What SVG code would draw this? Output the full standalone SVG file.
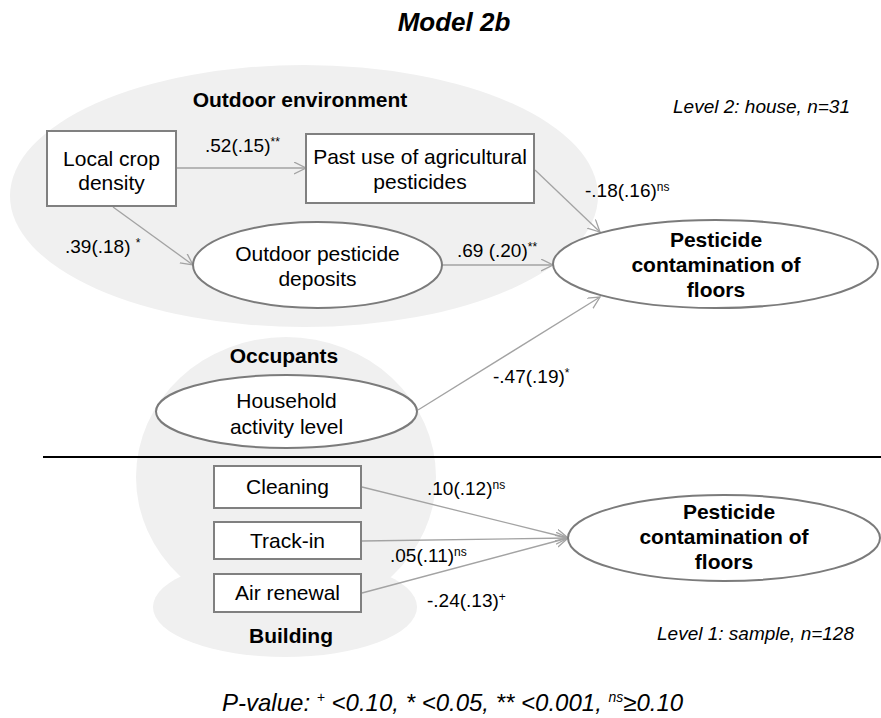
<svg xmlns="http://www.w3.org/2000/svg" width="881" height="718" viewBox="0 0 881 718">
<defs>
<style>
text{font-family:"Liberation Sans",Arial,sans-serif;fill:#000}
.n{font-size:21px;text-anchor:middle}
.b{font-size:21px;font-weight:bold;text-anchor:middle}
.e{font-size:19px}
.i{font-size:19px;font-style:italic}
.sup{font-size:12px}
.blob{fill:#f0f0f0;stroke:none}
.box{fill:#fff;stroke:#808080;stroke-width:2}
.ell{fill:#fff;stroke:#7b7b7b;stroke-width:2}
.c{stroke:#a3a3a3;stroke-width:1.3;fill:none;marker-end:url(#ah)}
</style>
<marker id="ah" markerUnits="userSpaceOnUse" markerWidth="14" markerHeight="14" refX="12" refY="6" orient="auto">
<path d="M0,0 L12,6 L0,12" fill="none" stroke="#a3a3a3" stroke-width="1.3"/>
</marker>
</defs>
<rect width="881" height="718" fill="#fff"/>
<g id="groups">
<ellipse class="blob" cx="304" cy="196" rx="294" ry="131"/>
<ellipse class="blob" cx="286" cy="477" rx="150" ry="140"/>
<ellipse class="blob" cx="285" cy="607" rx="132" ry="50"/>
</g>
<text x="454" y="31" style="font-size:26px;font-weight:bold;font-style:italic;text-anchor:middle">Model 2b</text>
<text class="b" x="300" y="107">Outdoor environment</text>
<text class="b" x="284" y="363">Occupants</text>
<text class="b" x="291" y="643">Building</text>
<text class="i" x="673" y="113">Level 2: house, n=31</text>
<text class="i" x="657" y="640">Level 1: sample, n=128</text>
<line x1="43" y1="457" x2="881" y2="457" stroke="#000" stroke-width="2"/>
<g id="connectors">
<line class="c" x1="176" y1="168" x2="306" y2="168"/>
<line class="c" x1="113" y1="207" x2="193" y2="265"/>
<line class="c" x1="535" y1="170" x2="600" y2="232"/>
<line class="c" x1="442" y1="265" x2="553" y2="265"/>
<line class="c" x1="418" y1="410" x2="600" y2="297"/>
<line class="c" x1="362" y1="487" x2="568" y2="538"/>
<line class="c" x1="362" y1="541" x2="568" y2="538"/>
<line class="c" x1="362" y1="593" x2="568" y2="538"/>
<text class="e" x="205" y="152">.52(.15)<tspan class="sup" dy="-6">**</tspan></text>
<text class="e" x="65" y="253">.39(.18) <tspan class="sup" dy="-6">*</tspan></text>
<text class="e" x="585" y="197">-.18(.16)<tspan class="sup" dy="-6">ns</tspan></text>
<text class="e" x="457" y="257">.69 (.20)<tspan class="sup" dy="-6">**</tspan></text>
<text class="e" x="493" y="383">-.47(.19)<tspan class="sup" dy="-6">*</tspan></text>
<text class="e" x="427" y="495">.10(.12)<tspan class="sup" dy="-6">ns</tspan></text>
<text class="e" x="390" y="562">.05(.11)<tspan class="sup" dy="-6">ns</tspan></text>
<text class="e" x="427" y="607">-.24(.13)<tspan class="sup" dy="-6">+</tspan></text>
</g>
<g id="local-crop">
<rect class="box" x="47" y="131" width="129" height="75"/>
<text class="n" x="111.5" y="166">Local crop</text>
<text class="n" x="111.5" y="190">density</text>
</g>
<g id="past-use">
<rect class="box" x="306" y="134" width="228" height="69"/>
<text class="n" x="420" y="164">Past use of agricultural</text>
<text class="n" x="420" y="189">pesticides</text>
</g>
<g id="outdoor-deposits">
<ellipse class="ell" cx="317.5" cy="265" rx="124.5" ry="43"/>
<text class="n" x="317.5" y="261">Outdoor pesticide</text>
<text class="n" x="317.5" y="286">deposits</text>
</g>
<g id="contamination-2">
<ellipse class="ell" cx="715.5" cy="264" rx="162.5" ry="44"/>
<text class="b" x="716" y="247">Pesticide</text>
<text class="b" x="716" y="272">contamination of</text>
<text class="b" x="716" y="297">floors</text>
</g>
<g id="household">
<ellipse class="ell" cx="286.5" cy="411.5" rx="130.5" ry="36.5"/>
<text class="n" x="286.5" y="408">Household</text>
<text class="n" x="286.5" y="434">activity level</text>
</g>
<g id="cleaning">
<rect class="box" x="214" y="466" width="147" height="42"/>
<text class="n" x="287.5" y="494">Cleaning</text>
</g>
<g id="track-in">
<rect class="box" x="214" y="522" width="147" height="37"/>
<text class="n" x="287.5" y="548">Track-in</text>
</g>
<g id="air-renewal">
<rect class="box" x="214" y="574" width="147" height="38"/>
<text class="n" x="287.5" y="600">Air renewal</text>
</g>
<g id="contamination-1">
<ellipse class="ell" cx="724" cy="538" rx="156" ry="43"/>
<text class="b" x="729" y="519">Pesticide</text>
<text class="b" x="724" y="544">contamination of</text>
<text class="b" x="724" y="569">floors</text>
</g>
<text x="222" y="711" style="font-size:24px;font-style:italic">P-value: <tspan style="font-size:14px" dy="-9">+</tspan><tspan dy="9"> &lt;0.10, * &lt;0.05, ** &lt;0.001, </tspan><tspan style="font-size:14px" dy="-9">ns</tspan><tspan dy="9">≥0.10</tspan></text>
</svg>
